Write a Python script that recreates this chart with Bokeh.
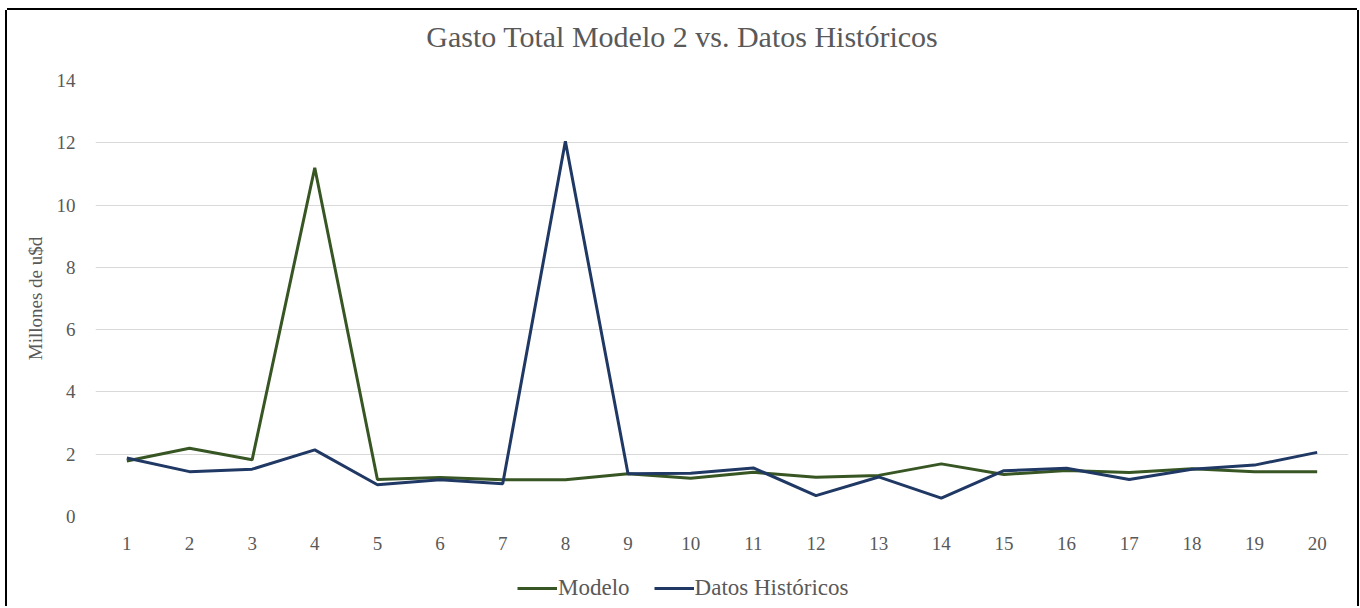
from bokeh.plotting import figure
from bokeh.layouts import column
from bokeh.models import Legend, LegendItem, FixedTicker, Div
from bokeh.embed import file_html
from bokeh.resources import INLINE

periods = list(range(1, 21))
modelo = [1.78, 2.19, 1.82, 11.2, 1.19, 1.25, 1.18, 1.18, 1.37, 1.23,
          1.42, 1.26, 1.32, 1.69, 1.35, 1.48, 1.41, 1.53, 1.44, 1.44]
historicos = [1.88, 1.44, 1.52, 2.14, 1.02, 1.18, 1.05, 12.05, 1.37, 1.39,
              1.56, 0.67, 1.27, 0.59, 1.47, 1.55, 1.19, 1.52, 1.65, 2.06]
y_ticks = [0, 2, 4, 6, 8, 10, 12, 14]
series_names = ["Modelo", "Datos Históricos"]
title_text = "Gasto Total Modelo 2 vs. Datos Históricos"

FONT = "Liberation Serif"
GREY = "#595959"
GREEN = "#375623"
BLUE = "#203864"

# title strip
title_div = Div(
    text=(f'<div style="width:1350px;text-align:center;font-family:\'{FONT}\';'
          f'font-size:30px;color:{GREY};line-height:54px;white-space:nowrap">'
          f'{title_text}</div>'),
    width=1350, height=54, margin=0)

p = figure(width=1350, height=506, output_backend="svg", toolbar_location=None,
           x_range=(0.5, 20.5), y_range=(0, 14),
           min_border_left=88, min_border_right=9, min_border_top=16,
           min_border_bottom=54)

p.outline_line_color = None
p.background_fill_color = "white"
p.border_fill_color = "white"

p.xgrid.grid_line_color = None
p.ygrid.grid_line_color = "#d9d9d9"
p.ygrid.grid_line_width = 1

p.xaxis.ticker = FixedTicker(ticks=periods)
p.yaxis.ticker = FixedTicker(ticks=y_ticks)
for ax in (p.xaxis[0], p.yaxis[0]):
    ax.axis_line_color = None
    ax.major_tick_line_color = None
    ax.minor_tick_line_color = None
    ax.major_label_text_font = FONT
    ax.major_label_text_font_size = "19px"
    ax.major_label_text_color = GREY
p.xaxis.major_label_standoff = 14
p.yaxis.major_label_standoff = 14

p.yaxis.axis_label = "Millones de u$d"
p.yaxis.axis_label_text_font = FONT
p.yaxis.axis_label_text_font_size = "19px"
p.yaxis.axis_label_text_font_style = "normal"
p.yaxis.axis_label_text_color = GREY
p.yaxis.axis_label_standoff = 8

p.line(periods, modelo, line_color=GREEN, line_width=3)
p.line(periods, historicos, line_color=BLUE, line_width=3)

# legend strip below the chart (its lines lie outside its visible range)
lf = figure(width=1350, height=36, output_backend="svg", toolbar_location=None,
            x_range=(-2, -1), y_range=(-2, -1), min_border=0)
lf.axis.visible = False
lf.grid.visible = False
lf.outline_line_color = None
lf.border_fill_color = "white"
lf.background_fill_color = "white"
l1 = lf.line(periods, modelo, line_color=GREEN, line_width=3)
l2 = lf.line(periods, historicos, line_color=BLUE, line_width=3)
legend = Legend(items=[LegendItem(label=series_names[0], renderers=[l1]),
                       LegendItem(label=series_names[1], renderers=[l2])],
                orientation="horizontal", location="left")
legend.border_line_color = None
legend.background_fill_alpha = 0
legend.label_text_font = FONT
legend.label_text_font_size = "23px"
legend.label_text_color = GREY
legend.glyph_width = 40
legend.label_standoff = 1
legend.spacing = 24
legend.padding = 0
legend.margin = 422
lf.add_layout(legend)

layout = column(title_div, p, lf, spacing=0)
layout.styles = {"margin-left": "7px", "margin-top": "10px",
                 "box-shadow": "-2px 0 0 0 #000, 2px 0 0 0 #000, 0 -2px 0 0 #000"}

open("out.html", "w").write(file_html(layout, INLINE))
